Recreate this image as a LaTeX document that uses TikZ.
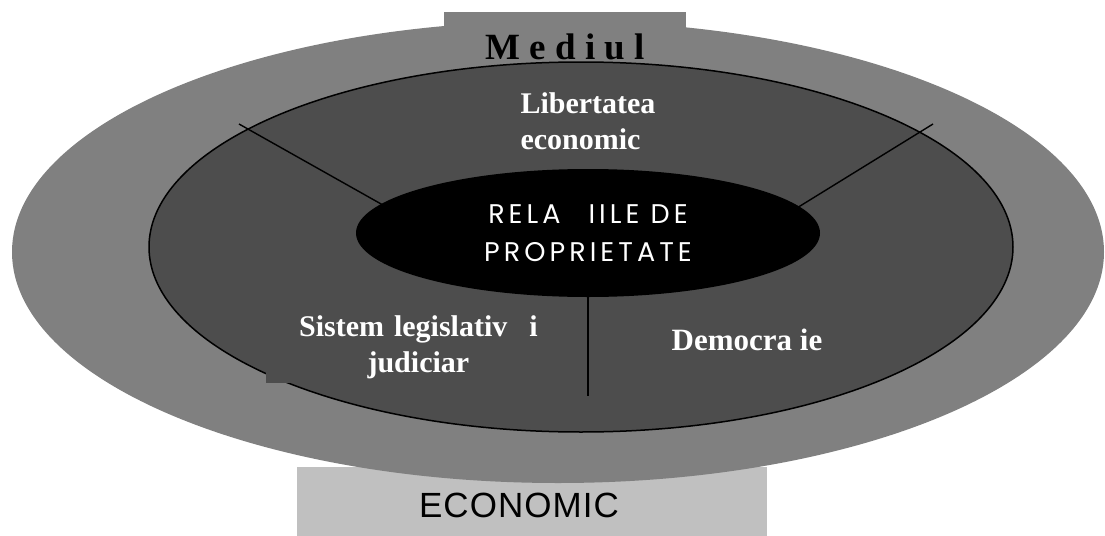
\documentclass[tikz,border=0pt]{standalone}
\usepackage{fontspec}
\setmainfont{Liberation Serif}
\setsansfont{Liberation Sans}
\newfontfamily\relfont[LetterSpace=15]{Poppins}
\newfontfamily\ecofont[LetterSpace=3]{Liberation Sans}
\usepackage{xcolor}
\usepackage{tikz}
\usetikzlibrary{shapes}

\definecolor{outergray}{HTML}{808080}
\definecolor{innergray}{HTML}{4D4D4D}
\definecolor{boxgray}{HTML}{C0C0C0}

\begin{document}
\begin{tikzpicture}[x=0.5pt,y=-0.5pt]
            \tikzstyle{ring} = [ellipse, inner sep=0pt]
            \tikzstyle{sector} = [text=white, font=\bfseries\fontsize{15}{18}\selectfont]
            \tikzstyle{spoke} = [line width=0.7pt]

            \useasboundingbox (0,0) rectangle (1105,536);
            \node [fill=boxgray, inner sep=0pt, minimum width=235pt, minimum height=35pt, anchor=north west] (ecobox) at (297,467) {};
            \node [ring, fill=outergray, minimum width=546pt, minimum height=231pt] (mediu) at (558,252) {};
            \node [fill=outergray, inner sep=0pt, minimum width=121pt, minimum height=34pt, anchor=north, font=\bfseries\fontsize{18.5}{22}\selectfont] (mediul) at (565,12) {M e d i u l};
            \node [ring, draw, line width=0.75pt, fill=innergray, minimum width=432pt, minimum height=185pt] (inner) at (581,247) {};
            \node [sector, fill=innergray, anchor=south west, text width=148pt, inner sep=2pt, align=center] (legis) at (266,383) {Sistem legislativ\hspace{11pt}i\\judiciar};
            \coordinate (lt) at (239,124);
            \coordinate (lb) at (390,209);
            \coordinate (rt) at (933,124);
            \coordinate (rb) at (792,211);
            \coordinate (vb) at (588,396);
            \draw [spoke] (lt) -- (lb);
            \draw [spoke] (rt) -- (rb);
            \node [ring, fill=black, text=white, minimum width=232pt, minimum height=64pt, align=center, font=\relfont\fontsize{13.5}{19}\selectfont] (rel) at (588,233) {RELA\hspace{14pt}IILE DE\\PROPRIETATE};
            \draw [spoke] (rel.south) -- (vb);
            \node [sector, align=left] (libert) at (588,121) {Libertatea\\economic};
            \node [sector, font=\bfseries\fontsize{15.5}{18}\selectfont] (democ) at (747,340) {Democra ie};
            \node [font=\ecofont\fontsize{17.5}{20}\selectfont] (eco) at (519,505) {ECONOMIC};
\end{tikzpicture}
\end{document}
